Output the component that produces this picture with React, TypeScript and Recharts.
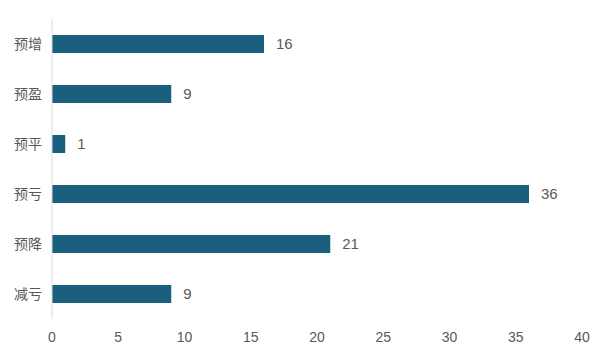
import { BarChart, Bar, XAxis, YAxis, LabelList } from "recharts";

const categories = ["预增", "预盈", "预平", "预亏", "预降", "减亏"];
const counts = [16, 9, 1, 36, 21, 9];
const xTicks = [0, 5, 10, 15, 20, 25, 30, 35, 40];

const data = categories.map((name, i) => ({ name, value: counts[i] }));

const BAR_COLOR = "#1a5f7e";
const TEXT_COLOR = "#595959";

export default function App() {
  return (
    <div style={{ position: "absolute", left: 0, top: 0, background: "#fff" }}>
      <BarChart
        width={600}
        height={360}
        data={data}
        layout="vertical"
        margin={{ top: 19, right: 18, bottom: 0, left: 0 }}
      >
        <XAxis
          type="number"
          domain={[0, 40]}
          ticks={xTicks}
          axisLine={false}
          tickLine={false}
          tickMargin={7}
          height={41}
          interval={0}
          tick={{ fill: TEXT_COLOR, fontSize: 14, fontFamily: "'Liberation Sans Narrow', 'Liberation Sans', sans-serif" }}
        />
        <YAxis
          type="category"
          dataKey="name"
          width={52}
          axisLine={{ stroke: "#d9d9d9" }}
          tickLine={false}
          tickMargin={4}
          tick={{ fill: TEXT_COLOR, fontSize: 14, fontFamily: "'Noto Sans CJK SC', sans-serif" }}
        />
        <Bar dataKey="value" fill={BAR_COLOR} barSize={18} isAnimationActive={false}>
          <LabelList
            dataKey="value"
            position="right"
            offset={12}
            fill={TEXT_COLOR}
            fontSize={15}
            fontFamily="'Liberation Sans', Arial, sans-serif"
          />
        </Bar>
      </BarChart>
    </div>
  );
}
